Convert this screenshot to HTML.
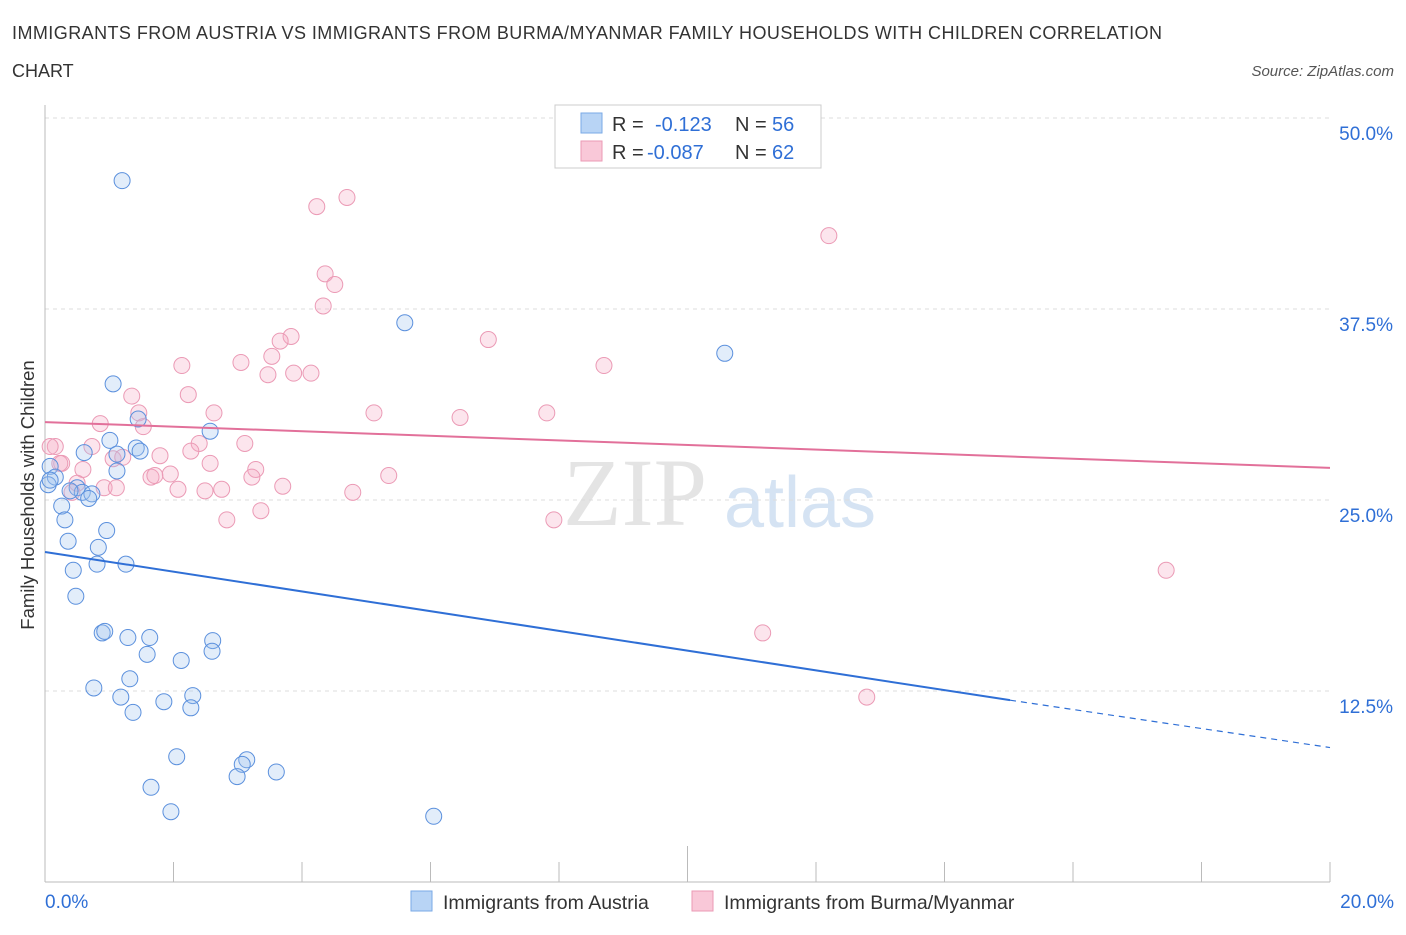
<!DOCTYPE html>
<html><head><meta charset="utf-8"><style>
body{margin:0;background:#fff;font-family:"Liberation Sans",sans-serif;}
</style></head><body>
<svg width="1406" height="930" xmlns="http://www.w3.org/2000/svg" id="svg">
<text x="12" y="39" font-size="18" fill="#333" textLength="1150">IMMIGRANTS FROM AUSTRIA VS IMMIGRANTS FROM BURMA/MYANMAR FAMILY HOUSEHOLDS WITH CHILDREN CORRELATION</text>
<text x="12" y="77" font-size="18" fill="#333">CHART</text>
<text x="1394" y="76" font-size="15" fill="#555" font-style="italic" text-anchor="end">Source: ZipAtlas.com</text>
<text x="635" y="525" font-size="96" fill="#e4e4e4" font-family="Liberation Serif,serif" text-anchor="middle">ZIP</text>
<text x="800" y="527" font-size="72" fill="#d5e3f3" text-anchor="middle">atlas</text>
<text x="34" y="495" font-size="18.5" fill="#333" text-anchor="middle" transform="rotate(-90 34 495)">Family Households with Children</text>
<g id="grid"></g><g id="marks"></g>
<g>
<rect x="555" y="105" width="266" height="63" fill="#fff" stroke="#ccc"/>
<rect x="581" y="113" width="21" height="20" fill="#b8d4f5" stroke="#7aaae6"/>
<rect x="581" y="141" width="21" height="20" fill="#f9c8d8" stroke="#eb9ab5"/>
<g font-size="20" fill="#333">
<text x="612" y="131">R =</text>
<text x="655" y="131" fill="#2f6fd6">-0.123</text>
<text x="735" y="131">N =</text>
<text x="772" y="131" fill="#2f6fd6">56</text>
<text x="612" y="159">R =</text>
<text x="647" y="159" fill="#2f6fd6">-0.087</text>
<text x="735" y="159">N =</text>
<text x="772" y="159" fill="#2f6fd6">62</text>
</g>
</g>
<rect x="411" y="891" width="21" height="20" fill="#b8d4f5" stroke="#7aaae6"/>
<text x="443" y="909" font-size="19.5" fill="#333">Immigrants from Austria</text>
<rect x="692" y="891" width="21" height="20" fill="#f9c8d8" stroke="#eb9ab5"/>
<text x="724" y="909" font-size="19.5" fill="#333">Immigrants from Burma/Myanmar</text>
</svg>
<script>
const yTicks=[12.5,25,37.5,50];
const xTickLabels=["0.0%","20.0%"];
const blueX=[1.2,1.06,5.6,10.58,1.45,1.01,1.42,1.48,0.61,2.57,1.12,1.12,0.08,0.16,0.05,0.5,0.58,0.73,0.39,0.68,0.26,0.31,0.36,0.83,0.96,0.81,1.26,0.44,0.48,0.89,0.93,1.29,1.63,2.61,1.59,2.6,2.12,1.32,0.76,1.18,2.3,1.85,2.27,1.37,2.05,3.14,3.07,3.6,2.99,1.65,1.96,6.05,0.08];
const blueY=[45.9,32.6,36.6,34.6,30.3,28.9,28.4,28.2,28.1,29.5,28.0,26.9,27.2,26.5,26.0,25.8,25.5,25.4,25.6,25.1,24.6,23.7,22.3,21.9,23.0,20.8,20.8,20.4,18.7,16.3,16.4,16.0,16.0,15.8,14.9,15.1,14.5,13.3,12.7,12.1,12.2,11.8,11.4,11.1,8.2,8.0,7.7,7.2,6.9,6.2,4.6,4.3,26.3];
const pinkX=[4.7,4.23,12.2,4.36,4.51,4.33,6.9,3.83,3.66,3.53,3.05,2.13,8.7,3.47,3.87,4.14,2.23,1.35,5.12,6.46,7.81,2.63,1.46,1.53,0.86,3.11,2.4,0.73,1.79,2.27,0.16,1.06,1.21,0.26,2.57,0.59,3.28,1.65,1.71,1.95,3.22,5.35,0.5,0.92,1.11,2.07,2.49,2.75,3.7,0.42,4.79,3.36,2.83,7.92,17.45,11.17,12.79,0.08,0.23];
const pinkY=[44.8,44.2,42.3,39.8,39.1,37.7,35.5,35.7,35.4,34.4,34.0,33.8,33.8,33.2,33.3,33.3,31.9,31.8,30.7,30.4,30.7,30.7,30.7,29.8,30.0,28.7,28.7,28.5,27.9,28.2,28.5,27.7,27.8,27.4,27.4,27.0,27.0,26.5,26.6,26.7,26.5,26.6,26.1,25.8,25.8,25.7,25.6,25.7,25.9,25.5,25.5,24.3,23.7,23.7,20.4,16.3,12.1,28.5,27.4];
const X=v=>45+v*64.25, Y=v=>882-v*15.28;
const NS="http://www.w3.org/2000/svg";
function mk(t,a,p){const e=document.createElementNS(NS,t);for(const k in a)e.setAttribute(k,a[k]);p.appendChild(e);return e;}
const g=document.getElementById('grid'),m=document.getElementById('marks');
yTicks.forEach(t=>{
 const l=mk('line',{x1:45,x2:1330,y1:Y(t),y2:Y(t),stroke:'#ddd','stroke-dasharray':'4,4'},g);
 
 
 const tx=mk('text',{x:1393,y:Y(t)+22,'font-size':19,fill:'#2f6fd6','text-anchor':'end'},g);
 tx.textContent=t.toFixed(1)+'%';
 
 
});
const ax=mk('line',{x1:45,x2:1330,y1:882,y2:882,stroke:'#bbb'},g);


const ay=mk('line',{x1:45,x2:45,y1:105,y2:882,stroke:'#bbb'},g);


for(let i=0;i<=10;i++){const t=mk('line',{x1:X(i*2),x2:X(i*2),y1:882,y2:(i==5?846:862),stroke:'#bbb'},g);
 
 }
[[0,45,'start'],[20,1394,'end']].forEach((d,i)=>{const t=mk('text',{x:d[1],y:908,'font-size':19,fill:'#2f6fd6','text-anchor':d[2]},g);t.textContent=xTickLabels[i];
 
 });
pinkX.forEach((v,i)=>{const c=mk('circle',{cx:X(v),cy:Y(pinkY[i]),r:8,fill:'rgba(246,170,196,0.3)',stroke:'#eb9ab5','stroke-width':1},m);
 
 });
blueX.forEach((v,i)=>{const c=mk('circle',{cx:X(v),cy:Y(blueY[i]),r:8,fill:'rgba(160,196,240,0.3)',stroke:'#5b90dd','stroke-width':1},m);
 
 });
const bl=mk('line',{x1:X(0),y1:Y(21.6),x2:X(15.02),y2:Y(11.9),stroke:'#2f6fd6','stroke-width':2},m);


const bd=mk('line',{x1:X(15.02),y1:Y(11.9),x2:X(20),y2:Y(8.8),stroke:'#2f6fd6','stroke-width':1.2,'stroke-dasharray':'6,5'},m);


const pl=mk('line',{x1:X(0),y1:Y(30.1),x2:X(20),y2:Y(27.1),stroke:'#e2709a','stroke-width':2},m);


</script>
</body></html>
